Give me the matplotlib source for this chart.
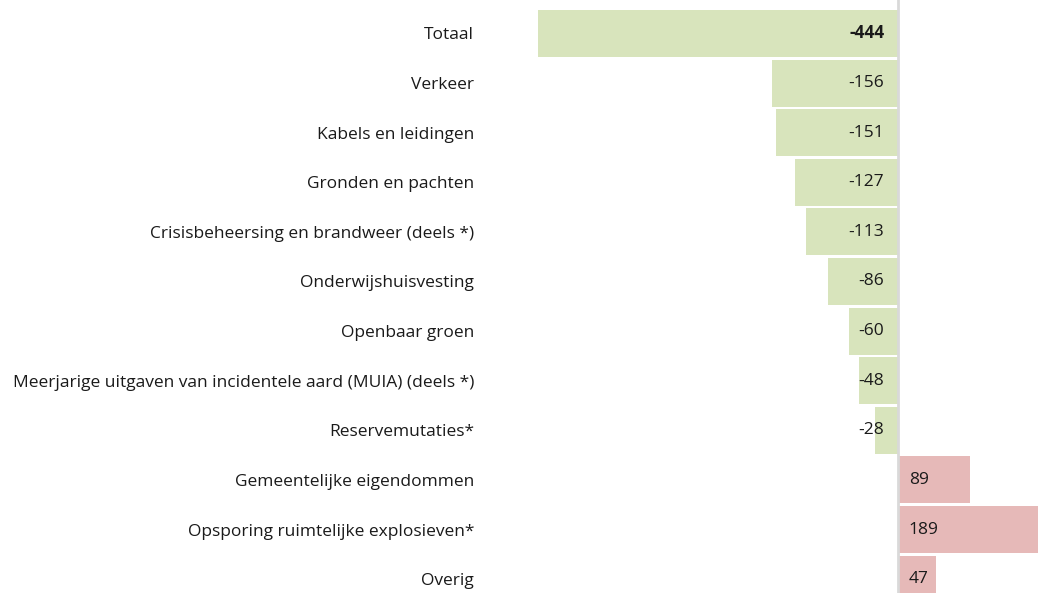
import numpy as np
import matplotlib.pyplot as plt

# data
categories = ['Totaal', 'Verkeer', 'Kabels en leidingen', 'Gronden en pachten',
              'Crisisbeheersing en brandweer (deels *)', 'Onderwijshuisvesting',
              'Openbaar groen', 'Meerjarige uitgaven van incidentele aard (MUIA) (deels *)',
              'Reservemutaties*', 'Gemeentelijke eigendommen',
              'Opsporing ruimtelijke explosieven*', 'Overig']
values = [-444, -156, -151, -127, -113, -86, -60, -48, -28, 89, 189, 47]

green = '#d8e4bc'
red = '#e6b9b8'

fig = plt.figure(figsize=(10.38, 5.93), dpi=100)
ax = fig.add_axes([538 / 1038, 0, 500 / 1038, 1])

y = np.arange(len(categories))
colors = [green if v < 0 else red for v in values]
ax.barh(y, values, height=0.95, color=colors, edgecolor='none', zorder=1)
ax.axvline(0, color='#d9d9d9', lw=2, zorder=2)

ax.set_xlim(-444, 172.5)
ax.set_ylim(11.28, -0.675)

ax.set_yticks(y)
ax.set_yticklabels(categories, fontsize=12.5, color='#1a1a1a', family='Open Sans')
ax.tick_params(axis='y', length=0, pad=46)
ax.set_xticks([])
for s in ax.spines.values():
    s.set_visible(False)

# value labels inside the bars
for i, v in enumerate(values):
    bold = 'bold' if i == 0 else 'normal'
    if v < 0:
        ax.text(-17, i, str(v), ha='right', va='center', fontsize=12.5,
                fontweight=bold, color='#1a1a1a', family='Open Sans')
    else:
        ax.text(13, i, str(v), ha='left', va='center', fontsize=12.5,
                fontweight=bold, color='#1a1a1a', family='Open Sans')

plt.savefig('out.png', dpi=100)
